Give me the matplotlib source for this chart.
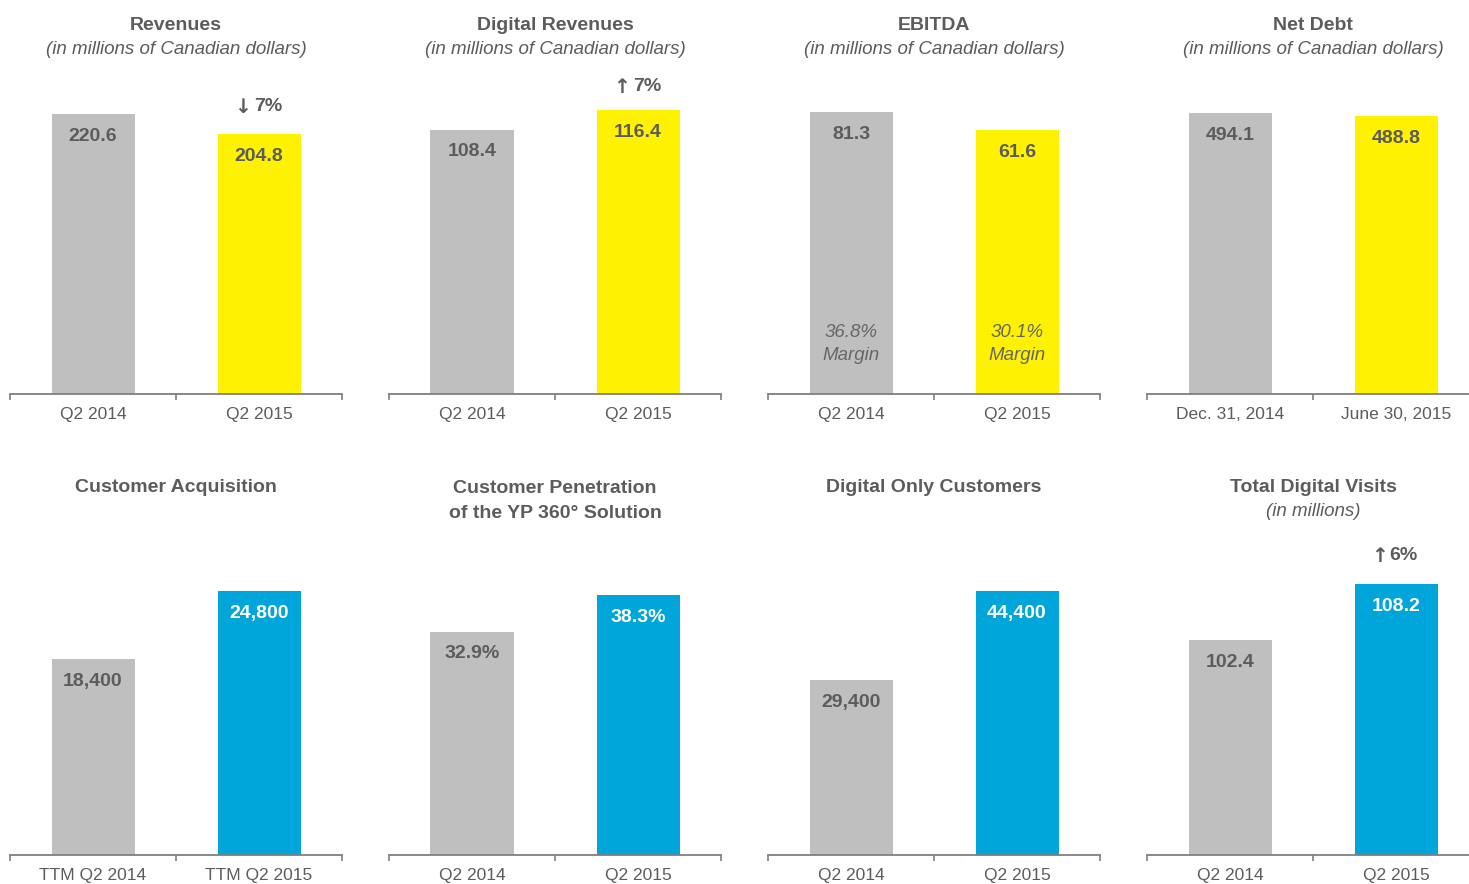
import matplotlib.pyplot as plt

plt.rcParams['font.family'] = ['Liberation Sans', 'DejaVu Sans']

TXT = '#5c5c5c'
GREY = '#bfbfbf'
YELLOW = '#fff200'
BLUE = '#00a6d9'
AXIS = '#7f7f7f'

titles = ['Revenues', 'Digital Revenues', 'EBITDA', 'Net Debt',
          'Customer Acquisition', 'Customer Penetration\nof the YP 360° Solution',
          'Digital Only Customers', 'Total Digital Visits']
subtitles = ['(in millions of Canadian dollars)'] * 4 + ['', '', '', '(in millions)']
categories = [['Q2 2014', 'Q2 2015'], ['Q2 2014', 'Q2 2015'], ['Q2 2014', 'Q2 2015'],
              ['Dec. 31, 2014', 'June 30, 2015'],
              ['TTM Q2 2014', 'TTM Q2 2015'], ['Q2 2014', 'Q2 2015'],
              ['Q2 2014', 'Q2 2015'], ['Q2 2014', 'Q2 2015']]
values = [[220.6, 204.8], [108.4, 116.4], [81.3, 61.6], [494.1, 488.8],
          [18400, 24800], [32.9, 38.3], [29400, 44400], [102.4, 108.2]]
formats = ['{:.1f}'] * 4 + ['{:,.0f}', '{:.1f}%', '{:,.0f}', '{:.1f}']
arrows = ['↓', '↑', None, None, None, None, None, '↑']
pcts = ['7%', '7%', None, None, None, None, None, '6%']
margins = [None, None, ['36.8%', '30.1%'], None, None, None, None, None]
# value ranges as drawn in the original (EBITDA and visits are not zero-based)
ylims = [(0, 236.4), (0, 123.0), (-227.3, 101.0), (0, 527.5),
         (0, 28180), (0, 44.2), (0, 50450), (80.1, 111.2)]

W, H = 1469, 884
fig = plt.figure(figsize=(W / 100, H / 100), dpi=100)

lefts = [10, 389, 768, 1147]
pw = 332
base = [394, 855]
ah = 300
chg_off = {0: 19.5, 1: 16.5, 7: 20}

for i in range(8):
    row, col = divmod(i, 4)
    ax = fig.add_axes([lefts[col] / W, 1 - base[row] / H, pw / W, ah / H])
    lo, hi = ylims[i]
    second = YELLOW if row == 0 else BLUE
    cols = [GREY, second]
    ax.bar([0, 1], [v - lo for v in values[i]], width=0.5, color=cols, bottom=lo)
    ax.set_xlim(-0.5, 1.5)
    ax.set_ylim(lo, hi)
    for s in ['top', 'left', 'right']:
        ax.spines[s].set_visible(False)
    ax.spines['bottom'].set_color(AXIS)
    ax.spines['bottom'].set_linewidth(1.3)
    ax.set_yticks([])
    ax.set_xticks([0, 1], categories[i])
    ax.set_xticks([-0.5, 0.5, 1.5], minor=True)
    ax.tick_params(axis='x', which='major', length=0, pad=9.5, labelsize=12.5, labelcolor=TXT)
    ax.tick_params(axis='x', which='minor', length=4.5, width=1.2, color=AXIS)

    for j, v in enumerate(values[i]):
        lc = 'white' if cols[j] == BLUE else TXT
        ax.annotate(formats[i].format(v), (j, v), xytext=(0, -16), textcoords='offset points',
                    ha='center', va='center', fontsize=14, fontweight='bold', color=lc)

    if arrows[i]:
        off = chg_off[i]
        dx_a, dx_t = (-11.5, 6.5) if i != 7 else (-12, 5)
        ax.annotate(arrows[i], (1, values[i][1]), xytext=(dx_a, off), textcoords='offset points',
                    ha='center', va='center', fontsize=14.5, fontweight='bold', color=TXT,
                    family='DejaVu Sans', annotation_clip=False)
        ax.annotate(pcts[i], (1, values[i][1]), xytext=(dx_t, off + 0.5), textcoords='offset points',
                    ha='center', va='center', fontsize=14, fontweight='bold', color=TXT,
                    annotation_clip=False)

    if margins[i]:
        for j, m in enumerate(margins[i]):
            ax.annotate(m + '\nMargin', (j, lo), xytext=(0, 36.3), textcoords='offset points',
                        ha='center', va='center', fontsize=13.5, style='italic', color='#666666',
                        linespacing=1.45)

    cx = (lefts[col] + pw / 2) / W
    ty = 25 if row == 0 else 487
    nl = titles[i].count('\n')
    fig.text(cx, 1 - (ty + nl * 14) / H, titles[i], ha='center', va='center',
             fontsize=14, fontweight='bold', color=TXT, linespacing=1.6)
    if subtitles[i]:
        sy = 50 if row == 0 else 511
        fig.text(cx, 1 - sy / H, subtitles[i], ha='center', va='center',
                 fontsize=13.5, style='italic', color=TXT)

fig.savefig('out.png', dpi=100)
